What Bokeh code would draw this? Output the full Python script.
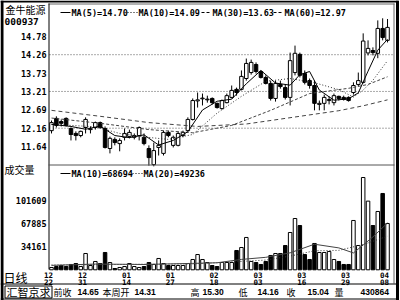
from bokeh.plotting import figure
from bokeh.models import Range1d, ColumnDataSource
from bokeh.core.properties import value
from bokeh.embed import file_html
from bokeh.resources import INLINE

# ---------------- data ----------------
stock_name = "金牛能源"
stock_code = "000937"

date_idx = [0, 7, 16, 25, 34, 43, 52, 61, 69]
date_month = ["12", "12", "01", "01", "02", "03", "03", "03", "04"]
date_day = ["22", "31", "14", "27", "18", "03", "16", "29", "08"]

opens = [12.09, 12.44, 12.35, 12.44, 12.15, 12.01, 11.95, 12.18, 12.12, 12.18,
         12.32, 12.15, 11.58, 11.84, 11.72, 11.90, 11.92, 11.90, 11.95, 11.90,
         11.58, 11.12, 11.61, 11.44, 12.04, 11.67, 11.67, 11.95, 12.09, 12.41,
         12.94, 13.00, 12.97, 13.01, 12.87, 12.72, 12.89, 13.04, 13.27, 13.27,
         13.58, 13.75, 13.98, 13.78, 13.61, 13.44, 13.01, 13.41, 13.32, 13.04,
         13.75, 14.27, 13.72, 13.52, 13.38, 12.84, 12.87, 12.95, 12.89, 13.07,
         13.04, 13.04, 13.18, 13.41, 13.47, 14.31, 14.38, 14.30, 15.01, 14.67]
highs = [12.38, 12.50, 12.41, 12.47, 12.18, 12.07, 12.09, 12.47, 12.21, 12.35,
         12.35, 12.21, 11.92, 11.90, 11.87, 12.15, 12.12, 12.01, 12.21, 12.01,
         11.67, 11.75, 11.81, 12.09, 12.09, 11.95, 12.07, 12.09, 12.47, 13.01,
         13.18, 13.15, 13.09, 13.04, 12.89, 12.98, 13.15, 13.38, 13.32, 13.81,
         14.15, 14.12, 14.04, 13.81, 13.67, 13.52, 13.52, 13.52, 13.41, 14.32,
         14.52, 14.32, 13.81, 13.58, 13.52, 12.95, 13.12, 13.07, 13.15, 13.09,
         13.09, 13.07, 13.47, 13.75, 14.87, 14.67, 14.47, 15.24, 15.30, 15.28]
lows = [12.01, 12.18, 12.21, 12.21, 11.81, 11.81, 11.90, 12.01, 12.01, 12.12,
        12.15, 11.58, 11.44, 11.67, 11.50, 11.81, 11.87, 11.84, 11.81, 11.67,
        11.09, 11.07, 11.38, 11.38, 11.90, 11.61, 11.64, 11.90, 12.07, 12.38,
        12.75, 12.81, 12.89, 12.84, 12.72, 12.69, 12.87, 13.01, 13.09, 13.24,
        13.52, 13.69, 13.72, 13.58, 13.41, 12.95, 12.92, 13.29, 12.98, 12.81,
        13.67, 13.61, 13.41, 13.29, 12.67, 12.67, 12.67, 12.84, 12.81, 12.95,
        12.95, 12.92, 13.12, 13.35, 13.44, 14.24, 14.24, 14.16, 14.67, 14.61]
closes = [12.32, 12.24, 12.30, 12.24, 11.98, 11.95, 12.07, 12.41, 12.14, 12.32,
          12.18, 11.61, 11.87, 11.75, 11.81, 12.01, 12.04, 11.95, 12.18, 11.72,
          11.32, 11.52, 11.67, 12.04, 11.95, 11.90, 12.01, 12.04, 12.41, 12.95,
          12.97, 13.02, 12.99, 12.89, 12.75, 12.95, 13.09, 13.24, 13.18, 13.64,
          14.01, 14.04, 13.78, 13.61, 13.44, 13.01, 13.44, 13.35, 13.04, 14.09,
          14.30, 13.67, 13.47, 13.38, 12.87, 12.87, 13.04, 12.98, 13.09, 13.01,
          12.98, 12.95, 13.38, 13.52, 14.65, 14.44, 14.32, 15.01, 14.75, 15.04]
volumes = [3400, 4800, 6300, 4800, 7800, 9200, 4800, 23900, 6300, 12200,
           9200, 25400, 10700, 1900, 3400, 4800, 9200, 4800, 3400, 4800,
           10700, 7800, 16600, 9200, 6300, 6300, 6300, 6300, 9200, 15100,
           22400, 15100, 10700, 6300, 4800, 10700, 10700, 10700, 28300, 32700,
           47400, 12200, 10700, 7800, 12200, 21000, 23900, 23900, 35600, 54700,
           75200, 64900, 22400, 15100, 38600, 25400, 25400, 26800, 15100, 12200,
           7800, 7800, 72300, 35600, 135300, 100700, 64900, 85500, 111900, 67900]

ma5_idx = [0, 4, 7, 10, 13, 16, 19, 22, 25, 28, 31, 34, 37, 40, 43, 46, 49, 51, 53, 55, 58, 61, 63, 65, 67, 69]
ma5_val = [12.27, 12.21, 12.13, 12.22, 11.95, 11.89, 11.97, 11.68, 11.81, 12.06, 12.68, 12.93, 12.99,
           13.43, 13.81, 13.45, 13.39, 13.69, 13.78, 13.25, 12.96, 13.00, 13.17, 13.79, 14.39, 14.70]
ma10_idx = [0, 4, 9, 14, 19, 24, 29, 34, 39, 44, 49, 54, 59, 62, 64, 66, 69]
ma10_val = [12.27, 12.24, 12.20, 12.01, 11.91, 11.84, 11.98, 12.59, 13.07, 13.50, 13.58, 13.46,
            13.26, 13.05, 13.25, 13.53, 14.09]
ma30_idx = [0, 10, 20, 29, 37, 45, 53, 61, 65, 69]
ma30_val = [12.45, 12.30, 12.12, 12.03, 12.24, 12.67, 13.15, 13.30, 13.41, 13.63]
ma60_idx = [0, 10, 20, 30, 40, 50, 59, 64, 69]
ma60_val = [12.67, 12.50, 12.32, 12.21, 12.28, 12.48, 12.66, 12.80, 12.97]

vma10_idx = [0, 9, 19, 29, 34, 39, 44, 49, 54, 59, 62, 64, 66, 69]
vma10_val = [6500, 8400, 7800, 9400, 10300, 15200, 18300, 24900, 37500, 32100, 24700, 36400, 48200, 68694]
vma20_idx = [0, 19, 29, 39, 44, 49, 54, 59, 64, 69]
vma20_val = [7000, 8100, 8600, 12300, 14300, 20100, 27900, 28500, 37000, 49236]

price_ticks = [14.78, 14.26, 13.73, 13.21, 12.69, 12.16, 11.64]
grid_prices = [14.26, 13.21, 12.16]
vol_ticks = [101609, 67885, 34161]

price_legend = [("MA(5)=14.70", "solid"), ("MA(10)=14.09", "dot"),
                ("MA(30)=13.63", "dash"), ("MA(60)=12.97", "dash")]
vol_legend = [("MA(10)=68694", "solid"), ("MA(20)=49236", "dot")]

info_labels = ["前收", "本周开", "高", "低", "收", "量"]
info_values = ["14.65", "14.31", "15.30", "14.16", "15.04", "430864"]
broker = "汇智京求"
period_label = "日线"
vol_title = "成交量"

# ---------------- layout constants ----------------
W, H = 400, 300
BAR0_PX, BAR_PX = 51.0, 4.87
PRICE_REF, PRICE_REF_PX, PX_PER_YUAN = 14.78, 36.0, 35.0
VOL_ZERO_PX, VOL_PER_PX = 269.3, 1466.0
MONO = "DejaVu Sans Mono"
SANS = "Liberation Sans"
CJK = "Noto Sans CJK SC"

p = figure(width=W, height=H, output_backend="svg", toolbar_location=None,
           x_range=Range1d(-BAR0_PX / BAR_PX, (W - BAR0_PX) / BAR_PX),
           y_range=Range1d(H, 0),
           x_axis_location=None, y_axis_location=None,
           min_border=0, outline_line_color=None,
           background_fill_color="white", border_fill_color="white")
p.grid.visible = False
p.extra_x_ranges = {"px": Range1d(0, W)}
p.extra_y_ranges = {
    "price": Range1d(PRICE_REF - (H - PRICE_REF_PX) / PX_PER_YUAN, PRICE_REF + PRICE_REF_PX / PX_PER_YUAN),
    "vol": Range1d(-(H - VOL_ZERO_PX) * VOL_PER_PX, VOL_ZERO_PX * VOL_PER_PX),
}


def seg(x0, y0, x1, y1, color="black", width=1, dash="solid"):
    p.segment(x0=[x0], y0=[y0], x1=[x1], y1=[y1], x_range_name="px",
              line_color=color, line_width=width, line_dash=dash)


def txt(x, y, s, size, font=MONO, bold=True, align="left"):
    p.text(x=[x], y=[y], text=[s], x_range_name="px",
           text_font=value(font), text_font_size=value(f"{size}px"),
           text_font_style="bold" if bold else "normal",
           text_align=align, text_baseline="middle", text_color="black")


# gridlines
for g in grid_prices:
    p.segment(x0=[49], x1=[393], y0=[g], y1=[g], x_range_name="px", y_range_name="price",
              line_color="#555555", line_width=1, line_dash="1 2")

# ---------------- candles ----------------
n = len(opens)
idx = list(range(n))
up = [c >= o for o, c in zip(opens, closes)]
src = ColumnDataSource(dict(
    i=idx, h=highs, l=lows,
    top=[max(o, c) for o, c in zip(opens, closes)],
    bot=[min(o, c) for o, c in zip(opens, closes)],
    fill=["white" if u else "black" for u in up],
    vol=volumes,
))
p.segment(x0="i", y0="h", x1="i", y1="l", source=src, y_range_name="price",
          line_color="black", line_width=1)
p.vbar(x="i", width=0.72, top="top", bottom="bot", source=src, y_range_name="price",
       fill_color="fill", line_color="black", line_width=1)

# price MAs
p.line(ma60_idx, ma60_val, y_range_name="price", line_color="#444444", line_width=1, line_dash="4 3")
p.line(ma30_idx, ma30_val, y_range_name="price", line_color="#444444", line_width=1, line_dash="3 2")
p.line(ma10_idx, ma10_val, y_range_name="price", line_color="#333333", line_width=1, line_dash="1 2")
p.line(ma5_idx, ma5_val, y_range_name="price", line_color="black", line_width=1)

# ---------------- volume ----------------
p.vbar(x="i", width=0.72, top="vol", bottom=0, source=src, y_range_name="vol",
       fill_color="fill", line_color="black", line_width=1)
p.line(vma20_idx, vma20_val, y_range_name="vol", line_color="#333333", line_width=1, line_dash="1 2")
p.line(vma10_idx, vma10_val, y_range_name="vol", line_color="#444444", line_width=1)

# ---------------- frame ----------------
seg(1.5, 0, 1.5, 300, width=3)
seg(0, 1, 398, 1, width=2)
seg(48, 3.5, 394, 3.5, color="#666666")
seg(393.5, 3, 393.5, 283, color="#666666")
seg(397, 0, 397, 300, width=3)
seg(48.5, 3, 48.5, 269)
seg(48, 164.5, 394, 164.5, color="#555555")
seg(0, 283.5, 398, 283.5)
seg(0, 298.5, 398, 298.5)
seg(4.5, 285.5, 51.5, 285.5)
seg(4.5, 297.5, 51.5, 297.5)
seg(4.5, 285.5, 4.5, 297.5)
seg(51.5, 285.5, 51.5, 297.5)

# ---------------- texts ----------------
txt(5, 9, stock_name, 10, font=CJK, bold=False)
txt(4, 21, stock_code, 9.5)
p.text(x=[46] * len(price_ticks), y=price_ticks, text=[f"{v:.2f}" for v in price_ticks],
       x_range_name="px", y_range_name="price", text_font=value(MONO),
       text_font_size=value("8.5px"), text_font_style="bold",
       text_align="right", text_baseline="middle", text_color="black")
p.text(x=[46] * len(vol_ticks), y=vol_ticks, text=[str(v) for v in vol_ticks],
       x_range_name="px", y_range_name="vol", text_font=value(MONO),
       text_font_size=value("8.5px"), text_font_style="bold",
       text_align="right", text_baseline="middle", text_color="black")
txt(4, 169, vol_title, 10, font=CJK, bold=False)


def legend_row(items, y, starts):
    for (label, kind), x in zip(items, starts):
        dash = {"solid": "solid", "dot": "1 2", "dash": "3 2"}[kind]
        seg(x, y, x + 10, y, dash=dash)
        txt(x + 11, y, label, 8.5)


legend_row(price_legend, 12, [60, 127, 201, 273])
legend_row(vol_legend, 173, [60, 132])

# date axis
p.text(x=date_idx, y=[274] * len(date_idx), text=date_month, text_font=value(MONO),
       text_font_size=value("7.5px"), text_font_style="bold", text_align="center",
       text_baseline="middle", text_color="black", x_offset=-3)
p.text(x=date_idx, y=[281] * len(date_idx), text=date_day, text_font=value(MONO),
       text_font_size=value("7.5px"), text_font_style="bold", text_align="center",
       text_baseline="middle", text_color="black", x_offset=-3)
txt(3, 277, period_label, 12, font=CJK, bold=False)

# info bar
txt(6, 291.5, broker, 11, font=CJK, bold=False)
label_x = [53, 102, 190, 238, 286, 334]
value_x = [77, 134, 202, 257, 307, 360]
for s, x in zip(info_labels, label_x):
    txt(x, 291.5, s, 9, font=CJK, bold=False)
for s, x in zip(info_values, value_x):
    txt(x, 291.5, s, 8.5, font=SANS)

open("out.html", "w").write(file_html(p, INLINE))
